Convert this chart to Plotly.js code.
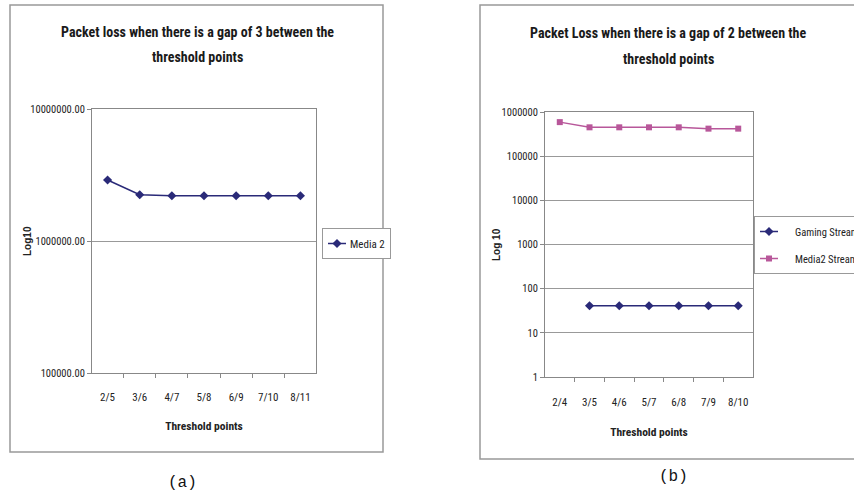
<!DOCTYPE html>
<html><head><meta charset="utf-8">
<script src="https://cdn.plot.ly/plotly-3.0.1.min.js"></script>
<style>body{margin:0;padding:0;background:#fff;overflow:hidden}#chart{width:854px;height:498px}</style>
</head><body><div id="chart"></div>
<script>
// Chart (a)
var catsA = ['2/5','3/6','4/7','5/8','6/9','7/10','8/11'];
var media2A = [2900000, 2240000, 2200000, 2200000, 2200000, 2200000, 2200000];
var tickValsA = [100000, 1000000, 10000000];
var tickTextA = ['100000.00','1000000.00','10000000.00'];
// Chart (b)
var catsB = ['2/4','3/5','4/6','5/7','6/8','7/9','8/10'];
var gamingB = [null, 41, 41, 41, 41, 41, 41];
var media2B = [590000, 450000, 450000, 450000, 450000, 420000, 420000];
var tickValsB = [1, 10, 100, 1000, 10000, 100000, 1000000];
var tickTextB = ['1','10','100','1000','10000','100000','1000000'];

var NAVY = '#2a2a78', PINK = '#b8579a';
var COND = '"Roboto Condensed", "Liberation Sans Narrow", "Arial Narrow", sans-serif';
var W = 854, H = 498;
function px(x){return x/W;} function py(y){return 1-y/H;}

var traces = [
 {x: catsA, y: media2A, name: 'Media 2', type:'scatter', mode:'lines+markers',
  line:{color:NAVY, width:1.5}, marker:{symbol:'diamond', size:7, color:NAVY},
  xaxis:'x', yaxis:'y', legend:'legend'},
 {x: catsB, y: gamingB, name: 'Gaming Stream', type:'scatter', mode:'lines+markers',
  line:{color:NAVY, width:1.5}, marker:{symbol:'diamond', size:7, color:NAVY},
  xaxis:'x2', yaxis:'y2', legend:'legend2', legendgroup:'g1', connectgaps:false},
 {x: catsB, y: media2B, name: 'Media2 Stream', type:'scatter', mode:'lines+markers',
  line:{color:PINK, width:1.5}, marker:{symbol:'square', size:6, color:PINK},
  xaxis:'x2', yaxis:'y2', legend:'legend2', legendgroup:'g2'}
];

var axFont = {family: COND, size: 11, color:'#222'};
var xCommon = {type:'category', showgrid:false, showline:true, linecolor:'#888', linewidth:1,
  mirror:true, ticks:'outside', tickson:'boundaries', ticklen:4, tickcolor:'#888',
  tickfont: axFont, tickangle:0, fixedrange:true};
var yCommon = {type:'log', showgrid:true, gridcolor:'#999', gridwidth:1, showline:true,
  linecolor:'#888', mirror:true, ticks:'outside', ticklen:4, tickcolor:'#888',
  tickfont: {family: COND, size: 10.5, color:'#222'}, zeroline:false};

function ann(x, y, text, font, extra){
  return Object.assign({xref:'paper', yref:'paper', x:px(x), y:py(y), text:text, showarrow:false,
    xanchor:'center', yanchor:'middle', font:font}, extra || {});
}
var titleFont = {family:COND, size:14, color:'#1a1a1a'};
var logFont = {family:'"Liberation Sans", Arial, sans-serif', size:10, color:'#222'};
var monoFont = {family:'"Liberation Mono", "Courier New", monospace', size:16, color:'#111'};

var layout = {
  width: W, height: H, margin:{l:0,r:0,t:0,b:0, autoexpand:false}, paper_bgcolor:'#fff', plot_bgcolor:'#fff',
  showlegend:true,
  xaxis: Object.assign({}, xCommon, {domain:[px(92), px(316)], anchor:'y', ticklabelstandoff:14,
     title:{text:'<b>Threshold points</b>', font:{family:COND, size:11.5, color:'#222'}, standoff:18}}),
  yaxis: Object.assign({}, yCommon, {domain:[py(373), py(109)], anchor:'x', range:[5,7],
     tickvals: tickValsA, ticktext: tickTextA}),
  xaxis2: Object.assign({}, xCommon, {domain:[px(545), px(753)], anchor:'y2', ticklabelstandoff:15,
     title:{text:'<b>Threshold points</b>', font:{family:COND, size:11.5, color:'#222'}, standoff:19}}),
  yaxis2: Object.assign({}, yCommon, {domain:[py(377), py(112)], anchor:'x2', range:[0,6],
     tickvals: tickValsB, ticktext: tickTextB}),
  legend: {x: px(322), y: py(228), xanchor:'left', yanchor:'top', bordercolor:'#999', borderwidth:1,
     bgcolor:'#fff', font:{family:COND, size:11, color:'#222'}, itemwidth:30},
  legend2: {x: px(754), y: py(216), xanchor:'left', yanchor:'top', bordercolor:'#999', borderwidth:1,
     bgcolor:'#fff', font:{family:COND, size:10.5, color:'#222'}, itemwidth:30, tracegroupgap:8},
  shapes: [
    {type:'rect', xref:'paper', yref:'paper', x0:px(10), x1:px(383), y0:py(452), y1:py(5),
     line:{color:'#999', width:1.5}},
    {type:'path', xref:'paper', yref:'paper',
     path:'M '+px(855)+','+py(459)+' L '+px(480)+','+py(459)+' L '+px(480)+','+py(5)+' L '+px(855)+','+py(5),
     line:{color:'#999', width:1.5}}
  ],
  annotations: [
    ann(197, 32, '<b>Packet loss when there is a gap of 3 between the</b>', titleFont),
    ann(197, 57, '<b>threshold points</b>', titleFont),
    ann(668, 33, '<b>Packet Loss when there is a gap of 2 between the</b>', titleFont),
    ann(668, 59, '<b>threshold points</b>', titleFont),
    ann(27, 241, '<b>Log10</b>', logFont, {textangle:-90}),
    ann(496, 245, '<b>Log 10</b>', logFont, {textangle:-90}),
    ann(182, 483, '(a)', monoFont),
    ann(673, 477, '(b)', monoFont)
  ]
};
Plotly.newPlot('chart', traces, layout, {staticPlot:true, displayModeBar:false}).then(function(gd){
  // compact legend samples (Excel-style short line swatch), text placed right after the swatch
  var TEXT_X = 27;
  gd.querySelectorAll('g.legendlines path').forEach(function(p){ p.setAttribute('d','M5,0h18'); });
  gd.querySelectorAll('g.legendpoints path').forEach(function(p){ p.setAttribute('transform','translate(14,0)'); });
  gd.querySelectorAll('text.legendtext').forEach(function(t){
    t.removeAttribute('transform');
    var bb = t.getBBox();
    t.setAttribute('transform', 'translate(' + (TEXT_X - bb.x) + ',0)');
  });
  gd.querySelectorAll('rect.bg').forEach(function(bg){
    var g = bg.parentNode;
    var texts = g ? g.querySelectorAll('text.legendtext') : [];
    if (texts.length) {
      var s = 0;
      texts.forEach(function(t){ var bb = t.getBBox(); s = Math.min(s, TEXT_X - bb.x); });
      bg.setAttribute('width', String(parseFloat(bg.getAttribute('width')) + s));
    }
  });
  gd.querySelectorAll('g.scrollbox').forEach(function(sb){ sb.removeAttribute('clip-path'); });
});
</script></body></html>
